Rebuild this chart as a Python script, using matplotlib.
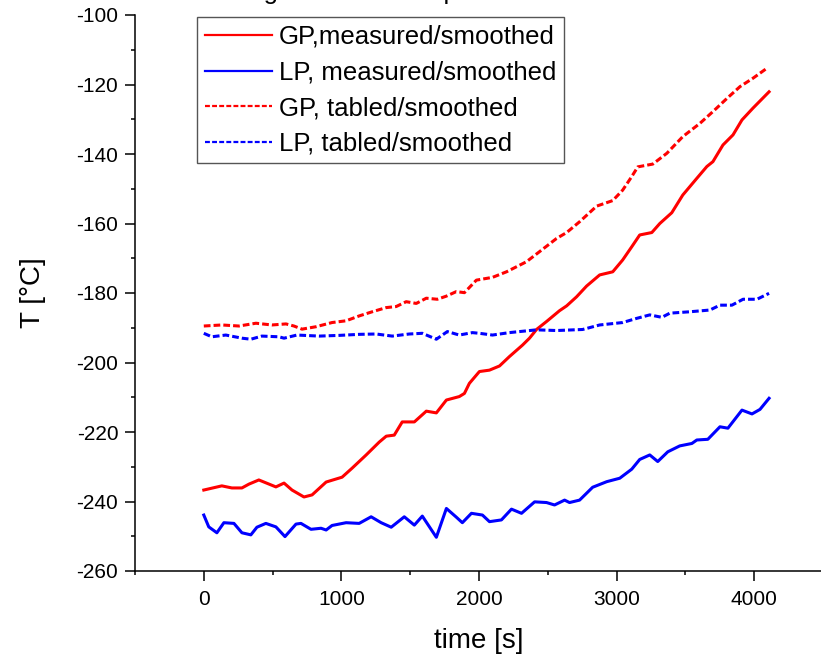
import numpy as np
import matplotlib
matplotlib.use("Agg")
import matplotlib.pyplot as plt
from matplotlib.ticker import MultipleLocator

plt.rcParams['font.family'] = ['Liberation Sans', 'DejaVu Sans']
plt.rcParams['axes.unicode_minus'] = False

# GP measured/smoothed
t_gp_meas = [0, 131, 204, 277, 328, 400, 524, 583, 641, 728, 787, 889, 1005, 1078,
             1180, 1275, 1326, 1384, 1442, 1530, 1617, 1690, 1763, 1857, 1894, 1930,
             2003, 2076, 2149, 2221, 2316, 2367, 2418, 2491, 2585, 2637, 2709, 2782,
             2877, 2972, 3044, 3110, 3168, 3256, 3314, 3401, 3481, 3583, 3656, 3700,
             3773, 3846, 3911, 3991, 4108]
T_gp_meas = [-236.7, -235.5, -236.1, -236.1, -235.0, -233.8, -235.8, -234.7, -236.7,
             -238.7, -238.1, -234.4, -233.0, -230.4, -226.6, -222.9, -221.2, -220.9,
             -217.1, -217.1, -214.0, -214.5, -210.8, -209.8, -208.9, -206.0, -202.6,
             -202.2, -201.0, -198.3, -195.0, -193.0, -190.5, -188.2, -185.1, -183.7,
             -181.1, -178.0, -174.8, -173.9, -170.5, -166.7, -163.3, -162.6, -160.0,
             -156.9, -151.8, -147.0, -143.6, -142.2, -137.4, -134.5, -130.2, -126.8,
             -122.1]

# LP measured/smoothed
t_lp_meas = [0, 36, 95, 146, 219, 277, 342, 386, 451, 524, 590, 670, 706, 779, 852,
             889, 932, 1034, 1129, 1216, 1289, 1362, 1457, 1530, 1588, 1690, 1763,
             1835, 1879, 1945, 2025, 2076, 2163, 2236, 2309, 2404, 2491, 2549, 2622,
             2658, 2731, 2826, 2928, 3023, 3110, 3168, 3241, 3299, 3372, 3459, 3547,
             3583, 3663, 3751, 3809, 3911, 3984, 4042, 4108]
T_lp_meas = [-243.9, -247.3, -249.0, -246.1, -246.3, -249.0, -249.6, -247.4, -246.3,
             -247.3, -250.1, -246.5, -246.3, -248.0, -247.7, -248.2, -246.9, -246.1,
             -246.3, -244.4, -246.1, -247.4, -244.4, -246.8, -244.2, -250.3, -242.0,
             -244.5, -246.1, -243.4, -243.9, -245.8, -245.3, -242.2, -243.4, -240.1,
             -240.3, -241.0, -239.6, -240.3, -239.6, -235.9, -234.3, -233.3, -230.7,
             -227.9, -226.6, -228.5, -225.7, -224.0, -223.3, -222.3, -222.1, -218.5,
             -218.9, -213.7, -214.8, -213.5, -210.3]

# GP tabled/smoothed
t_gp_tab = [0, 131, 255, 379, 495, 597, 655, 714, 816, 932, 1034, 1129, 1224, 1326,
            1398, 1471, 1544, 1617, 1697, 1763, 1835, 1894, 1981, 2098, 2200, 2345,
            2440, 2564, 2637, 2731, 2855, 2972, 3044, 3110, 3154, 3263, 3365, 3481,
            3605, 3700, 3802, 3897, 3991, 4093]
T_gp_tab = [-189.5, -189.2, -189.5, -188.7, -189.2, -188.9, -189.5, -190.4, -189.7,
            -188.5, -188.0, -186.6, -185.4, -184.2, -183.9, -182.5, -183.0, -181.5,
            -181.8, -180.9, -179.6, -179.9, -176.3, -175.5, -173.9, -171.0, -168.1,
            -164.3, -162.6, -159.5, -155.0, -153.4, -150.4, -146.5, -143.7, -142.9,
            -139.8, -135.0, -131.2, -127.8, -124.0, -120.6, -118.2, -115.3]

# LP tabled/smoothed
t_lp_tab = [0, 58, 160, 277, 342, 422, 546, 583, 677, 838, 983, 1129, 1253, 1369, 1493,
            1588, 1690, 1770, 1857, 1952, 2003, 2098, 2221, 2418, 2564, 2753, 2877,
            3044, 3146, 3241, 3329, 3387, 3533, 3678, 3751, 3838, 3919, 4020, 4108]
T_lp_tab = [-191.6, -192.6, -192.1, -193.0, -193.3, -192.4, -192.6, -193.0, -192.1,
            -192.4, -192.2, -191.9, -191.8, -192.4, -191.8, -191.6, -193.3, -191.1,
            -192.1, -191.4, -191.6, -192.1, -191.4, -190.6, -190.8, -190.5, -189.2,
            -188.5, -187.3, -186.3, -187.0, -185.8, -185.4, -184.9, -183.5, -183.5,
            -181.8, -181.8, -180.1]

fig = plt.figure(figsize=(8.21, 6.58), dpi=100)
ax = fig.add_axes([135/821, 87/658, 688/821, 556/658])

lw = 2.2
ax.plot(t_gp_meas, T_gp_meas, color='#ff0000', lw=lw, label='GP,measured/smoothed')
ax.plot(t_lp_meas, T_lp_meas, color='#0000ff', lw=lw, label='LP, measured/smoothed')
ax.plot(t_gp_tab, T_gp_tab, color='#ff0000', lw=lw, dashes=(2.2, 1.0),
        label='GP, tabled/smoothed')
ax.plot(t_lp_tab, T_lp_tab, color='#0000ff', lw=lw, dashes=(2.2, 1.0),
        label='LP, tabled/smoothed')

ax.set_xlim(-500, 4500)
ax.set_ylim(-260, -100)
ax.xaxis.set_major_locator(MultipleLocator(1000))
ax.xaxis.set_minor_locator(MultipleLocator(500))
ax.yaxis.set_major_locator(MultipleLocator(20))
ax.yaxis.set_minor_locator(MultipleLocator(10))

for s in ['top', 'right']:
    ax.spines[s].set_visible(False)
for s in ['left', 'bottom']:
    ax.spines[s].set_linewidth(1.1)
ax.tick_params(which='major', length=7, width=1.1, labelsize=15, direction='out')
ax.tick_params(which='minor', length=3, width=1.1, direction='out')
ax.tick_params(axis='x', which='major', pad=7)
ax.tick_params(axis='y', which='major', pad=5)

ax.set_xlabel('time [s]', fontsize=20, labelpad=13)
ax.set_ylabel('T [°C]', fontsize=20, labelpad=22)

leg = ax.legend(loc='upper left', bbox_to_anchor=(62/688, 0.996), borderaxespad=0,
                fontsize=18.5, handlelength=2.6, handletextpad=0.3, labelspacing=0.45,
                borderpad=0.3, fancybox=False, framealpha=1)
leg.get_frame().set_edgecolor('#555555')
leg.get_frame().set_linewidth(1.0)
for h in leg.get_lines():
    h.set_linewidth(1.6)

# title, almost all of it lies above the top edge
fig.text(176/821, 1 + 1/658, 'Warming of the GP temperature', ha='left',
         va='baseline', fontsize=18.5)

fig.savefig('out.png', dpi=100)
